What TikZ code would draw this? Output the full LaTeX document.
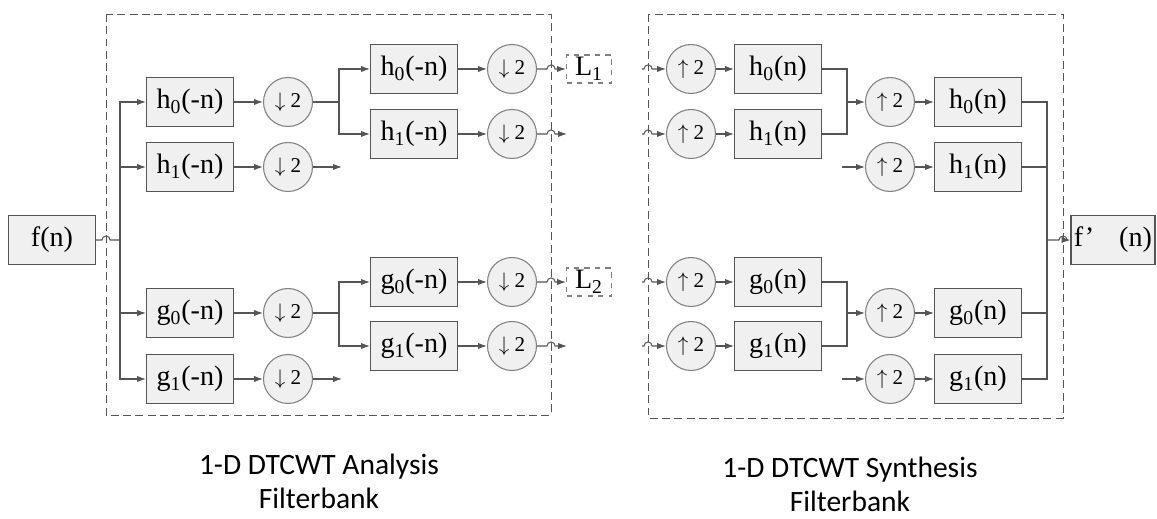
\documentclass[tikz,border=0pt]{standalone}
\usepackage{fontspec}
\setmainfont{Liberation Serif}
\newfontfamily\capfont{Carlito}
\usetikzlibrary{arrows.meta,calc}
\definecolor{linegray}{RGB}{85,85,85}
\definecolor{boxfill}{RGB}{240,240,240}

\begin{document}
\begin{tikzpicture}[x=0.02cm,y=-0.02cm,line width=0.6pt,
	filt/.style={draw=linegray,fill=boxfill,minimum width=1.74cm,minimum height=0.98cm,inner sep=0pt,font=\fontsize{16}{18}\selectfont},
	samp/.style={circle,draw=gray,fill=boxfill,minimum size=0.98cm,inner sep=0pt,font=\fontsize{12}{14}\selectfont},
	lbox/.style={draw=gray,dashed,minimum width=0.9cm,minimum height=0.56cm,inner sep=0pt,font=\fontsize{16}{18}\selectfont},
	arr/.style={draw=linegray,-{Latex[length=5pt,width=3.5pt]}},
	ln/.style={draw=linegray},
	bankbox/.style={draw=linegray,line width=0.5pt,dash pattern=on 4.5pt off 2.5pt},
	caption/.style={font=\capfont\fontsize{16.8}{19.5}\selectfont,align=center},
	jump/.style={start angle=180,end angle=0,radius=2.3pt}]
				\useasboundingbox (0,0) rectangle (1157,519);
				\draw[bankbox] (106,14) rectangle (551,415);
				\draw[bankbox] (648,14) rectangle (1063,418);
				\coordinate (aR) at (551,14);
				\coordinate (sL) at (648,14);
				\coordinate (sR) at (1063,418);
				% analysis
				\node[filt] (f) at (52,240) {f(n)};
				\node[filt] (h0a) at (190,102) {h\textsubscript{0}(-n)};
				\node[filt] (h1a) at (190,167) {h\textsubscript{1}(-n)};
				\node[filt] (g0a) at (190,313) {g\textsubscript{0}(-n)};
				\node[filt] (g1a) at (190,379) {g\textsubscript{1}(-n)};
				\node[samp] (dh0a) at (288,102) {$\downarrow$\ 2};
				\node[samp] (dh1a) at (288,167) {$\downarrow$\ 2};
				\node[samp] (dg0a) at (288,313) {$\downarrow$\ 2};
				\node[samp] (dg1a) at (288,379) {$\downarrow$\ 2};
				\node[filt] (h0b) at (414,69) {h\textsubscript{0}(-n)};
				\node[filt] (h1b) at (414,134) {h\textsubscript{1}(-n)};
				\node[filt] (g0b) at (414,282) {g\textsubscript{0}(-n)};
				\node[filt] (g1b) at (414,346) {g\textsubscript{1}(-n)};
				\node[samp] (dh0b) at (512,69) {$\downarrow$\ 2};
				\node[samp] (dh1b) at (512,134) {$\downarrow$\ 2};
				\node[samp] (dg0b) at (512,282) {$\downarrow$\ 2};
				\node[samp] (dg1b) at (512,346) {$\downarrow$\ 2};
				\node[lbox] (L1) at (589,69) {L\textsubscript{1}};
				\node[lbox] (L2) at (589,282) {L\textsubscript{2}};
				\coordinate (split) at (120,240);
				\coordinate (sh) at (339,102);
				\coordinate (sg) at (339,313);
				\coordinate (eh1a) at (342,167);
				\coordinate (eg1a) at (342,379);
				\coordinate (eh1b) at (567,134);
				\coordinate (eg1b) at (567,346);
				\draw[ln] (f) -- ($(f.east -| 106,0)+(-4,0)$) arc[jump] -- (split);
				\draw[arr] (split) |- (h0a);
				\draw[arr] (split) |- (h1a);
				\draw[arr] (split) |- (g0a);
				\draw[arr] (split) |- (g1a);
				\draw[arr] (h0a) -- (dh0a);
				\draw[arr] (h1a) -- (dh1a);
				\draw[arr] (g0a) -- (dg0a);
				\draw[arr] (g1a) -- (dg1a);
				\draw[ln] (dh0a) -- (sh);
				\draw[ln] (dg0a) -- (sg);
				\draw[arr] (sh) |- (h0b);
				\draw[arr] (sh) |- (h1b);
				\draw[arr] (sg) |- (g0b);
				\draw[arr] (sg) |- (g1b);
				\draw[arr] (dh1a) -- (eh1a);
				\draw[arr] (dg1a) -- (eg1a);
				\draw[arr] (h0b) -- (dh0b);
				\draw[arr] (h1b) -- (dh1b);
				\draw[arr] (g0b) -- (dg0b);
				\draw[arr] (g1b) -- (dg1b);
				\draw[arr] (dh0b) -- ($(dh0b -| aR)+(-4,0)$) arc[jump] -- (L1);
				\draw[arr] (dh1b) -- ($(dh1b -| aR)+(-4,0)$) arc[jump] -- (eh1b);
				\draw[arr] (dg0b) -- ($(dg0b -| aR)+(-4,0)$) arc[jump] -- (L2);
				\draw[arr] (dg1b) -- ($(dg1b -| aR)+(-4,0)$) arc[jump] -- (eg1b);
				% synthesis
				\node[samp] (uh0) at (691,69) {$\uparrow$\ 2};
				\node[samp] (uh1) at (691,134) {$\uparrow$\ 2};
				\node[samp] (ug0) at (691,282) {$\uparrow$\ 2};
				\node[samp] (ug1) at (691,346) {$\uparrow$\ 2};
				\node[filt] (h0s) at (778,69) {h\textsubscript{0}(n)};
				\node[filt] (h1s) at (778,134) {h\textsubscript{1}(n)};
				\node[filt] (g0s) at (778,282) {g\textsubscript{0}(n)};
				\node[filt] (g1s) at (778,346) {g\textsubscript{1}(n)};
				\node[samp] (uh0c) at (890,102) {$\uparrow$\ 2};
				\node[samp] (uh1c) at (890,167) {$\uparrow$\ 2};
				\node[samp] (ug0c) at (890,313) {$\uparrow$\ 2};
				\node[samp] (ug1c) at (890,379) {$\uparrow$\ 2};
				\node[filt] (h0t) at (978,102) {h\textsubscript{0}(n)};
				\node[filt] (h1t) at (978,167) {h\textsubscript{1}(n)};
				\node[filt] (g0t) at (978,313) {g\textsubscript{0}(n)};
				\node[filt] (g1t) at (978,379) {g\textsubscript{1}(n)};
				\node[filt,minimum width=1.68cm] (fo) at (1113,240) {f’\hspace{0.5cm}(n)};
				\coordinate (ih0) at (642,69);
				\coordinate (ih1) at (642,134);
				\coordinate (ig0) at (642,282);
				\coordinate (ig1) at (642,346);
				\coordinate (mh) at (847,102);
				\coordinate (mg) at (847,313);
				\coordinate (ih1c) at (842,167);
				\coordinate (ig1c) at (842,379);
				\coordinate (mo) at (1047,240);
				\draw[arr] (ih0) -- ($(ih0 -| sL)+(-4,0)$) arc[jump] -- (uh0);
				\draw[arr] (ih1) -- ($(ih1 -| sL)+(-4,0)$) arc[jump] -- (uh1);
				\draw[arr] (ig0) -- ($(ig0 -| sL)+(-4,0)$) arc[jump] -- (ug0);
				\draw[arr] (ig1) -- ($(ig1 -| sL)+(-4,0)$) arc[jump] -- (ug1);
				\draw[arr] (uh0) -- (h0s);
				\draw[arr] (uh1) -- (h1s);
				\draw[arr] (ug0) -- (g0s);
				\draw[arr] (ug1) -- (g1s);
				\draw[ln] (h0s) -| (mh);
				\draw[ln] (h1s) -| (mh);
				\draw[ln] (g0s) -| (mg);
				\draw[ln] (g1s) -| (mg);
				\draw[arr] (mh) -- (uh0c);
				\draw[arr] (mg) -- (ug0c);
				\draw[arr] (ih1c) -- (uh1c);
				\draw[arr] (ig1c) -- (ug1c);
				\draw[arr] (uh0c) -- (h0t);
				\draw[arr] (uh1c) -- (h1t);
				\draw[arr] (ug0c) -- (g0t);
				\draw[arr] (ug1c) -- (g1t);
				\draw[ln] (h0t) -| (mo);
				\draw[ln] (h1t) -| (mo);
				\draw[ln] (g0t) -| (mo);
				\draw[ln] (g1t) -| (mo);
				\draw[arr] (mo) -- ($(mo -| sR)+(-4,0)$) arc[jump] -- (fo);
				% captions
				\node[caption] (capA) at (319,481) {1-D DTCWT Analysis\\Filterbank};
				\node[caption] (capS) at (850,484) {1-D DTCWT Synthesis\\Filterbank};
			\end{tikzpicture}
\end{document}
